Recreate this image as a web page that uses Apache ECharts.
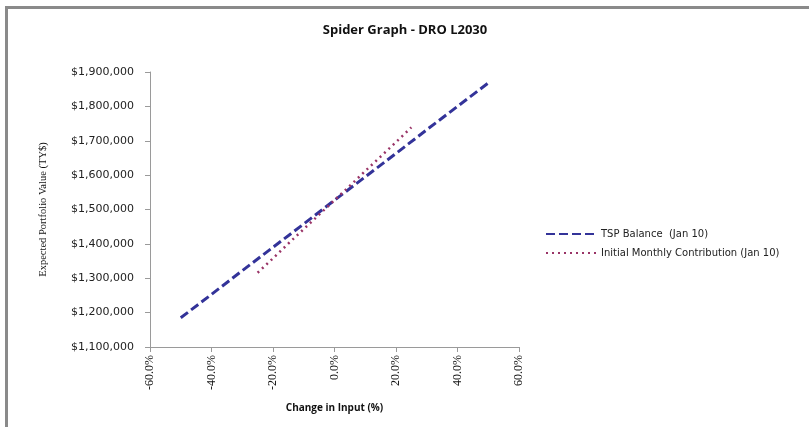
<!DOCTYPE html>
<html>
<head>
<meta charset="utf-8">
<script src="https://cdn.jsdelivr.net/npm/echarts@6/dist/echarts.min.js"></script>
<style>
  html, body { margin: 0; padding: 0; background: #fff; }
  #chart { position: absolute; left: 0; top: 0; width: 809px; height: 427px; }
  .frame {
    position: absolute; left: 5px; top: 6px; width: 810px; height: 430px;
    border-left: 3px solid #8a8a8a; border-top: 3px solid #8a8a8a;
    pointer-events: none;
  }
</style>
</head>
<body>
<div id="chart"></div>
<div class="frame"></div>
<script>
// change in input (%) and expected portfolio value
const tspX = [-50, -40, -30, -20, -10, 0, 10, 20, 30, 40, 50]
const tspValues = [1185000, 1253000, 1322000, 1390000, 1458000, 1527000, 1595000, 1663000, 1732000, 1800000, 1868000]
const contribX = [-25, -20, -15, -10, -5, 0, 5, 10, 15, 20, 25]
const contribValues = [1316000, 1358000, 1401000, 1443000, 1485000, 1527000, 1569000, 1612000, 1654000, 1696000, 1739000]
const seriesNames = ['TSP Balance  (Jan 10)', 'Initial Monthly Contribution (Jan 10)']

const zip = (xs, ys) => xs.map((x, i) => [x, ys[i]])

const chart = echarts.init(document.getElementById('chart'))

const axisGray = '#9a9a9a'

chart.setOption({
  animation: false,
  backgroundColor: '#fff',
  title: {
    text: 'Spider Graph - DRO L2030',
    left: 400,
    textAlign: 'center',
    top: 19,
    textStyle: { fontFamily: 'Open Sans', fontWeight: 'bold', fontSize: 13, color: '#111' },
  },
  grid: { left: 150, right: 290, top: 72, bottom: 80 },
  legend: {
    orient: 'vertical',
    left: 540,
    top: 224,
    itemWidth: 50,
    itemHeight: 10,
    itemGap: 9,
    itemStyle: { opacity: 0 },
    textStyle: { fontFamily: 'DejaVu Sans', fontSize: 10, color: '#222' },
    data: seriesNames,
  },
  xAxis: {
    type: 'value',
    min: -60,
    max: 60,
    interval: 20,
    name: 'Change in Input (%)',
    nameLocation: 'middle',
    nameGap: 56,
    nameTextStyle: { fontFamily: 'Open Sans', fontWeight: 'bold', fontSize: 10, color: '#111' },
    splitLine: { show: false },
    axisLine: { onZero: false, lineStyle: { color: axisGray } },
    axisTick: { lineStyle: { color: axisGray }, length: 5 },
    axisLabel: {
      rotate: 90,
      fontFamily: 'Liberation Serif',
      fontSize: 12,
      color: '#111',
      margin: 8,
      formatter: v => v.toFixed(1) + '%',
    },
  },
  yAxis: {
    type: 'value',
    min: 1100000,
    max: 1900000,
    interval: 100000,
    name: 'Expected Portfolio Value (TY$)',
    nameLocation: 'middle',
    nameGap: 101,
    nameTextStyle: { fontFamily: 'Liberation Serif', fontSize: 10.5, color: '#111' },
    splitLine: { show: false },
    axisLine: { show: true, onZero: false, lineStyle: { color: axisGray } },
    axisTick: { show: true, lineStyle: { color: axisGray }, length: 5 },
    axisLabel: {
      fontFamily: 'DejaVu Sans',
      fontSize: 11,
      color: '#222',
      margin: 16,
      formatter: v => '$' + v.toLocaleString('en-US'),
    },
  },
  series: [
    {
      name: seriesNames[0],
      type: 'line',
      data: zip(tspX, tspValues),
      symbol: 'none',
      lineStyle: { color: '#333399', width: 3, type: [9, 4] },
      itemStyle: { color: '#333399' },
    },
    {
      name: seriesNames[1],
      type: 'line',
      data: zip(contribX, contribValues),
      symbol: 'none',
      lineStyle: { color: '#993366', width: 2.5, type: [2, 4] },
      itemStyle: { color: '#993366' },
    },
  ],
})
</script>
</body>
</html>
